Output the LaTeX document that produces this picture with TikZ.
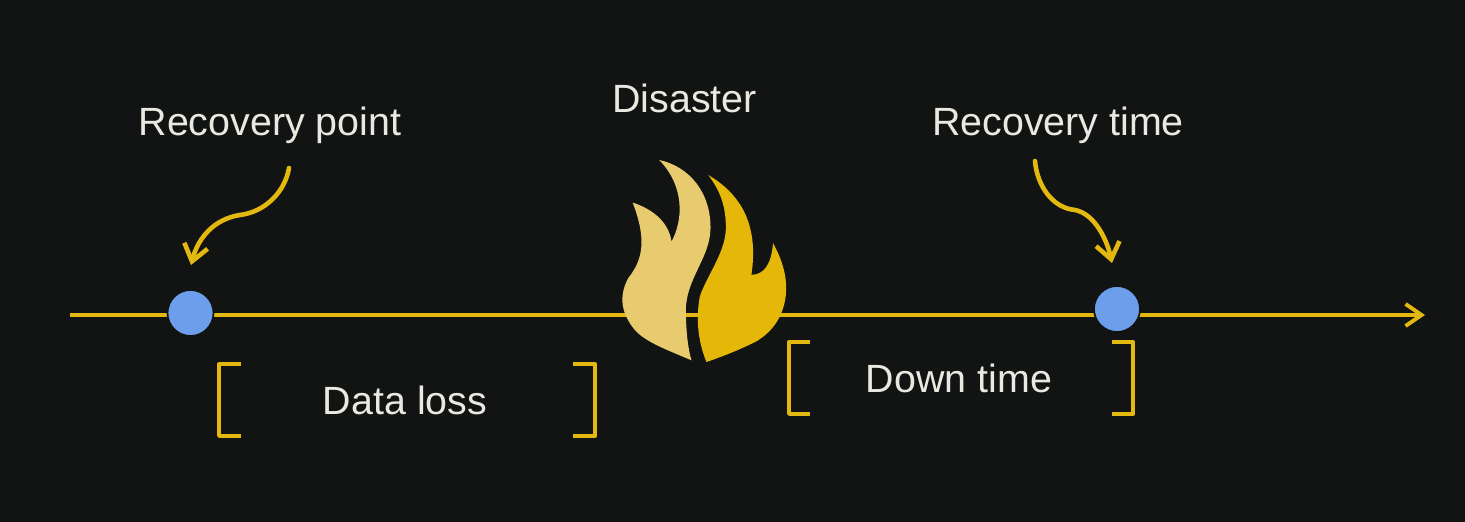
\documentclass[tikz,border=0pt]{standalone}
\usepackage{fontspec}
\setmainfont{Liberation Sans}
\usetikzlibrary{arrows.meta}
\definecolor{bgdark}{HTML}{111412}
\definecolor{lineyellow}{HTML}{E3B90F}
\definecolor{flamelight}{HTML}{E8CB6F}
\definecolor{flamedark}{HTML}{E4B708}
\definecolor{dotblue}{HTML}{6D9EEB}
\definecolor{labelwhite}{HTML}{E9E9E1}
\tikzset{
  label text/.style={text=labelwhite, font=\fontsize{11.2pt}{13pt}\selectfont},
  time dot/.style={circle, fill=dotblue, draw=bgdark, line width=0.5pt, minimum size=0.46cm, inner sep=0pt},
  yellow line/.style={draw=lineyellow, line width=1.1pt},
  pointer/.style={yellow line, line width=1.3pt, line cap=round, -{Straight Barb[length=1.6mm,width=2.4mm,line width=1.3pt]}},
  bracket/.style={yellow line, line join=round}
}
\begin{document}
\begin{tikzpicture}[x=0.01cm, y=-0.01cm]
\fill[bgdark] (0,0) rectangle (1465,522);
\useasboundingbox (0,0) rectangle (1465,522);

\coordinate (axis start) at (70,315);
\coordinate (axis end) at (1425,315);
\draw[yellow line, -{Straight Barb[length=1.6mm,width=2.2mm,line width=1.1pt]}] (axis start) -- (axis end);

\node[time dot] (recovery dot) at (190.5,313) {};
\node[time dot] (down dot) at (1117,309) {};

\node[label text] (recovery label) at (270,125) {Recovery point};
\node[label text] (disaster label) at (684.5,98) {Disaster};
\node[label text] (time label) at (1058,125) {Recovery time};
\node[label text] (loss label) at (405,400) {Data loss};
\node[label text] (down label) at (959,378) {Down time};

\coordinate (recovery from) at (289,168);
\coordinate (recovery to) at (191,265);
\coordinate (time from) at (1035,161);
\coordinate (time to) at (1112,263);
\draw[pointer] (recovery from) .. controls (285,192) and (265,212) .. (240,215) .. controls (214,219) and (198,238) .. (recovery to);
\draw[pointer] (time from) .. controls (1037,185) and (1052,208) .. (1075,210) .. controls (1095,214) and (1107,240) .. (time to);

\draw[bracket] (241,364) -- (219,364) -- (219,436) -- (241,436);
\draw[bracket] (573,364) -- (595,364) -- (595,436) -- (573,436);
\draw[bracket] (810,342) -- (789,342) -- (789,414) -- (810,414);
\draw[bracket] (1112,342) -- (1133,342) -- (1133,414) -- (1112,414);

\begin{scope}[shift={(600,150)}, x=0.00333cm, y=-0.00333cm]
\fill[flamelight] (178,30) .. controls (270,50) and (335,130) .. (332,240)
  .. controls (328,330) and (255,390) .. (258,490)
  .. controls (259,550) and (265,600) .. (275,632)
  .. controls (200,600) and (130,575) .. (100,535)
  .. controls (65,490) and (55,440) .. (85,385)
  .. controls (115,345) and (150,290) .. (98,158)
  .. controls (150,175) and (205,210) .. (215,275)
  .. controls (250,210) and (255,110) .. (178,30) -- cycle;
\fill[flamedark] (325,75) .. controls (410,125) and (480,210) .. (455,375)
  .. controls (495,375) and (515,340) .. (520,280)
  .. controls (545,325) and (565,380) .. (558,440)
  .. controls (550,500) and (520,545) .. (470,575)
  .. controls (420,600) and (370,620) .. (320,637)
  .. controls (300,590) and (285,520) .. (300,440)
  .. controls (320,380) and (375,310) .. (378,240)
  .. controls (380,170) and (360,120) .. (325,75) -- cycle;
\end{scope}
\end{tikzpicture}
\end{document}
